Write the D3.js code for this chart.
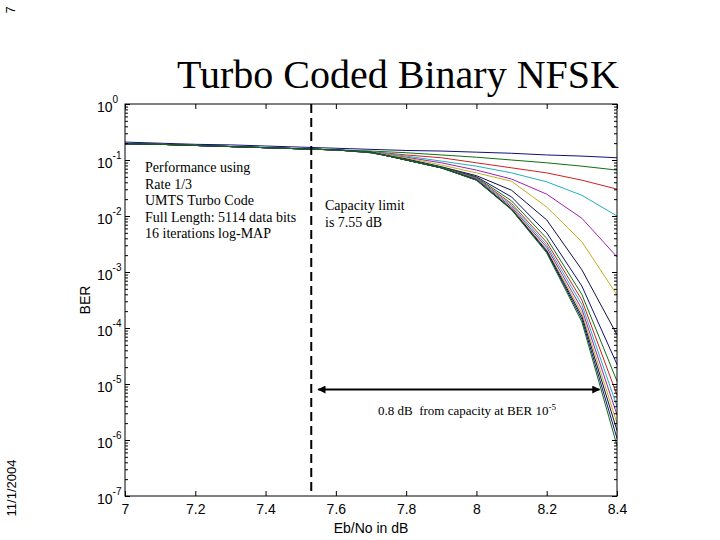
<!DOCTYPE html>
<html>
<head>
<meta charset="utf-8">
<script src="https://cdn.jsdelivr.net/npm/d3@7"></script>
<style>
  body { margin: 0; background: #fff; }
  text { fill: #000; }
</style>
</head>
<body>
<div id="chart"></div>
<script>
// Eb/No points (dB)
const ebno = [7.0, 7.1, 7.2, 7.3, 7.4, 7.5, 7.6, 7.7, 7.8, 7.9, 8.0, 8.1, 8.2, 8.3, 8.4];

// log10(BER) per decoder iteration
const iter1  = [-0.68, -0.70, -0.72, -0.73, -0.75, -0.77, -0.79, -0.81, -0.83, -0.84, -0.86, -0.88, -0.91, -0.93, -0.96];
const iter2  = [-0.71, -0.72, -0.74, -0.76, -0.78, -0.80, -0.82, -0.84, -0.87, -0.91, -0.95, -1.00, -1.05, -1.11, -1.18];
const iter3  = [-0.71, -0.72, -0.74, -0.76, -0.78, -0.80, -0.82, -0.85, -0.91, -0.96, -1.05, -1.14, -1.23, -1.36, -1.52];
const iter4  = [-0.71, -0.72, -0.74, -0.76, -0.78, -0.80, -0.82, -0.85, -0.93, -1.02, -1.11, -1.23, -1.39, -1.63, -2.00];
const iter5  = [-0.71, -0.72, -0.74, -0.76, -0.78, -0.80, -0.82, -0.86, -0.95, -1.05, -1.18, -1.34, -1.61, -2.04, -2.73];
const iter6  = [-0.71, -0.72, -0.74, -0.76, -0.78, -0.80, -0.82, -0.86, -0.96, -1.09, -1.23, -1.38, -1.84, -2.46, -3.41];
const iter7  = [-0.71, -0.72, -0.74, -0.76, -0.78, -0.80, -0.82, -0.87, -0.98, -1.12, -1.28, -1.54, -2.07, -2.96, -4.12];
const iter8  = [-0.71, -0.72, -0.74, -0.76, -0.78, -0.80, -0.82, -0.87, -0.99, -1.13, -1.30, -1.66, -2.30, -3.25, -4.65];
const iter9  = [-0.71, -0.72, -0.74, -0.76, -0.78, -0.80, -0.82, -0.87, -0.99, -1.13, -1.31, -1.73, -2.40, -3.40, -4.95];
const iter10 = [-0.71, -0.72, -0.74, -0.76, -0.78, -0.80, -0.82, -0.86, -1.00, -1.14, -1.32, -1.78, -2.47, -3.50, -5.20];
const iter11 = [-0.71, -0.72, -0.74, -0.76, -0.78, -0.80, -0.82, -0.86, -1.00, -1.14, -1.33, -1.81, -2.52, -3.58, -5.40];
const iter12 = [-0.71, -0.72, -0.74, -0.76, -0.78, -0.80, -0.82, -0.86, -1.00, -1.14, -1.34, -1.84, -2.56, -3.66, -5.55];
const iter13 = [-0.71, -0.72, -0.74, -0.76, -0.78, -0.80, -0.82, -0.86, -1.00, -1.14, -1.35, -1.86, -2.60, -3.73, -5.70];
const iter14 = [-0.71, -0.72, -0.74, -0.76, -0.78, -0.80, -0.82, -0.86, -1.00, -1.14, -1.35, -1.875, -2.62, -3.79, -5.83];
const iter15 = [-0.71, -0.72, -0.74, -0.76, -0.78, -0.80, -0.82, -0.86, -1.00, -1.14, -1.36, -1.885, -2.64, -3.84, -5.97];
const iter16 = [-0.71, -0.72, -0.74, -0.76, -0.78, -0.80, -0.82, -0.86, -1.00, -1.14, -1.36, -1.89, -2.66, -3.89, -6.10];
const series = [iter1, iter2, iter3, iter4, iter5, iter6, iter7, iter8,
                iter9, iter10, iter11, iter12, iter13, iter14, iter15, iter16];

// matlab-ish colour order (cycles)
const colors = ["#10107a", "#107010", "#d02020", "#20b0c0", "#a020b0", "#c0b020", "#101040"];

const xTicks = [7, 7.2, 7.4, 7.6, 7.8, 8, 8.2, 8.4];
const yExp = [0, -1, -2, -3, -4, -5, -6, -7];

const capacityDb = 7.53;
const arrowFrom = 7.55, arrowTo = 8.35, arrowBerExp = -5.1;

const infoLines = ["Performance using", "Rate 1/3", "UMTS Turbo Code",
                   "Full Length: 5114 data bits", "16 iterations log-MAP"];
const capLines = ["Capacity limit", "is 7.55 dB"];

// set the dimensions and margins of the graph
var margin = { top: 104, right: 103, bottom: 44, left: 125 },
  width = 720 - margin.left - margin.right,
  height = 540 - margin.top - margin.bottom;

var root = d3
  .select("#chart")
  .append("svg")
  .attr("width", 720)
  .attr("height", 540);

var svg = root
  .append("g")
  .attr("transform", "translate(" + margin.left + "," + margin.top + ")");

var x = d3.scaleLinear().domain([7, 8.4]).range([0, width]);
var y = d3.scaleLog().domain([1e-7, 1]).range([height, 0]);

var sans = "'Liberation Sans', Arial, sans-serif";
var serif = "'Liberation Serif', 'Times New Roman', serif";

// minor log ticks
var minor = [];
yExp.slice(0, -1).forEach(function (e) {
  for (var k = 2; k <= 9; k++) minor.push(k * Math.pow(10, e - 1));
});

// curves
var line = d3
  .line()
  .x(function (d, i) { return x(ebno[i]); })
  .y(function (d) { return y(Math.pow(10, d)); });

svg
  .selectAll("path.curve")
  .data(series)
  .enter()
  .append("path")
  .attr("class", "curve")
  .attr("d", line)
  .attr("fill", "none")
  .attr("stroke", function (d, i) { return colors[i % colors.length]; })
  .attr("stroke-width", 1);

// axes (ticks inward)
var bottom = svg
  .append("g")
  .attr("transform", "translate(0," + height + ")")
  .call(d3.axisBottom(x).tickValues(xTicks).tickSize(-5).tickPadding(8).tickFormat(d3.format("")));
bottom.selectAll("text").style("font-family", sans).style("font-size", "14px");

svg.append("g").call(d3.axisTop(x).tickValues(xTicks).tickSize(-5).tickFormat(""));

var left = svg
  .append("g")
  .call(d3.axisLeft(y).tickValues(yExp.map(function (e) { return Math.pow(10, e); })).tickSize(-5).tickFormat(""));
left
  .selectAll(".tick")
  .append("text")
  .attr("x", -28)
  .attr("y", 7)
  .attr("text-anchor", "start")
  .style("font-family", sans)
  .style("font-size", "14px")
  .each(function (d) {
    var t = d3.select(this);
    t.append("tspan").text("10");
    t.append("tspan")
      .attr("dy", -9)
      .style("font-size", "10px")
      .text(Math.round(Math.log10(d)));
  });

svg.append("g").call(d3.axisLeft(y).tickValues(minor).tickSize(-3).tickFormat(""));
svg
  .append("g")
  .attr("transform", "translate(" + width + ",0)")
  .call(d3.axisRight(y).tickValues(yExp.map(function (e) { return Math.pow(10, e); })).tickSize(-5).tickFormat(""));
svg
  .append("g")
  .attr("transform", "translate(" + width + ",0)")
  .call(d3.axisRight(y).tickValues(minor).tickSize(-3).tickFormat(""));

svg.selectAll(".domain").remove();
svg
  .append("rect")
  .attr("width", width)
  .attr("height", height)
  .attr("fill", "none")
  .attr("stroke", "#000")
  .attr("stroke-width", 1);

// capacity line
svg
  .append("line")
  .attr("x1", x(capacityDb))
  .attr("x2", x(capacityDb))
  .attr("y1", 0)
  .attr("y2", height)
  .attr("stroke", "#000")
  .attr("stroke-width", 2)
  .attr("stroke-dasharray", "9,5");

// double arrow
var defs = root.append("defs");
defs
  .append("marker")
  .attr("id", "head")
  .attr("viewBox", "0 0 10 10")
  .attr("refX", 9)
  .attr("refY", 5)
  .attr("markerWidth", 5.5)
  .attr("markerHeight", 4)
  .attr("orient", "auto-start-reverse")
  .append("path")
  .attr("d", "M0,0 L10,5 L0,10 z")
  .attr("fill", "#000");

var ay = y(Math.pow(10, arrowBerExp));
svg
  .append("line")
  .attr("x1", x(arrowFrom))
  .attr("x2", x(arrowTo))
  .attr("y1", ay)
  .attr("y2", ay)
  .attr("stroke", "#000")
  .attr("stroke-width", 2)
  .attr("marker-start", "url(#head)")
  .attr("marker-end", "url(#head)");

var note = svg
  .append("text")
  .attr("x", 253)
  .attr("y", ay + 25)
  .style("font-family", serif)
  .style("font-size", "13px");
note.append("tspan").text("0.8 dB\u00a0 from capacity at BER 10");
note.append("tspan").attr("dy", -5).style("font-size", "9px").text("-5");

// annotations
svg
  .append("g")
  .selectAll("text")
  .data(infoLines)
  .enter()
  .append("text")
  .attr("x", 20)
  .attr("y", function (d, i) { return 68 + i * 16.5; })
  .style("font-family", serif)
  .style("font-size", "14px")
  .text(function (d) { return d; });

svg
  .append("g")
  .selectAll("text")
  .data(capLines)
  .enter()
  .append("text")
  .attr("x", 200)
  .attr("y", function (d, i) { return 106 + i * 16.5; })
  .style("font-family", serif)
  .style("font-size", "14px")
  .text(function (d) { return d; });

// titles and labels
root
  .append("text")
  .attr("x", 177)
  .attr("y", 88)
  .style("font-family", serif)
  .style("font-size", "40px")
  .text("Turbo Coded Binary NFSK");

root
  .append("text")
  .attr("x", margin.left + width / 2)
  .attr("y", 533)
  .attr("text-anchor", "middle")
  .style("font-family", sans)
  .style("font-size", "14px")
  .text("Eb/No in dB");

root
  .append("text")
  .attr("transform", "translate(90," + (margin.top + height / 2) + ") rotate(-90)")
  .attr("text-anchor", "middle")
  .style("font-family", sans)
  .style("font-size", "14px")
  .text("BER");

root
  .append("text")
  .attr("transform", "translate(16,488) rotate(-90)")
  .attr("text-anchor", "middle")
  .style("font-family", sans)
  .style("font-size", "13px")
  .text("11/1/2004");

root
  .append("text")
  .attr("transform", "translate(15,10) rotate(-90)")
  .attr("text-anchor", "middle")
  .style("font-family", sans)
  .style("font-size", "13px")
  .text("7");
</script>
</body>
</html>
